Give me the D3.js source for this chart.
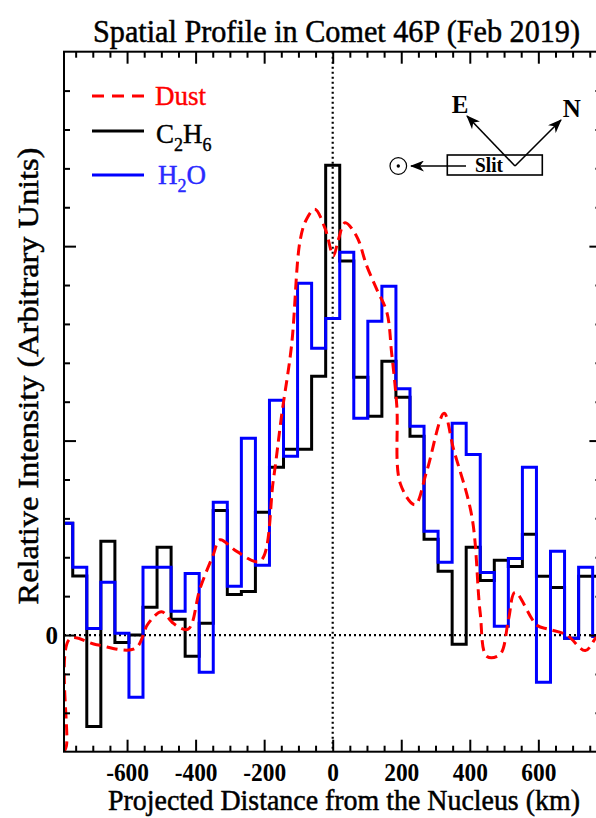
<!DOCTYPE html>
<html>
<head>
<meta charset="utf-8">
<script src="https://cdn.jsdelivr.net/npm/d3@7"></script>
<style>
  body { margin: 0; background: #fff; }
  svg { display: block; }
  svg text { font-family: "Liberation Serif", "DejaVu Serif", serif; }
</style>
</head>
<body>
<svg id="chart" width="596" height="818"></svg>
<script>
// bin centres in km (slit pixels), left to right
binCenters = [-779, -738, -697, -656, -615, -574, -533, -492, -451, -410, -369, -328, -287, -246, -205, -164, -123, -82, -41,
              0, 41, 82, 123, 164, 205, 246, 287, 328, 369, 410, 451, 492, 533, 574, 615, 656, 697, 738, 779];
binWidth = 41;

c2h6Values = [0.575, 0.303, -0.470, 0.482, -0.038, 0.000, 0.143, 0.451, 0.081, -0.109, 0.060, 0.641, 0.208, 0.224, 0.631, 0.863, 0.955, 0.955, 1.331,
              2.416, 1.923, 1.326, 1.125, 1.408, 1.223, 1.022, 0.492, 0.328, -0.048, 0.451, 0.281, 0.384, 0.353, 0.518, 0.302, 0.245, -0.017, 0.302, 0.302];

h2oValues = [0.575, 0.348, 0.034, 0.271, 0.009, -0.320, 0.348, 0.348, 0.122, 0.317, -0.192, 0.683, 0.251, 1.012, 0.359, 1.207, 0.919, 1.809, 1.475,
             1.628, 1.968, 1.115, 1.614, 1.794, 1.266, 1.074, 0.534, 0.374, 1.089, 0.929, 0.322, 0.045, 0.394, 0.863, -0.243, 0.431, -0.017, 0.348, -0.007];

dustX = [-784, -777, -767, -689, -577, -538, -499, -465, -422, -387, -349, -329, -280, -212, -173, -149, -120, -95, -76, -52, -22, 2, 16, 36, 70,
         99, 128, 158, 172, 187, 197, 240, 274, 325, 352, 406, 430, 450, 488, 513, 532, 596, 630, 683, 737, 769, 784];
dustY = [-0.60, -0.57, -0.02, -0.05, -0.07, 0.06, 0.12, 0.06, 0.03, 0.24, 0.41, 0.49, 0.43, 0.38, 0.80, 1.13, 1.49, 2.03, 2.14, 2.19, 2.09, 1.95, 2.03, 2.12, 2.05,
         1.90, 1.78, 1.66, 1.45, 1.18, 0.78, 0.67, 0.84, 1.14, 0.96, 0.61, 0.12, -0.11, -0.10, 0.08, 0.22, 0.05, 0.03, 0.00, -0.08, -0.01, 0.02];

xMajor = [-600, -400, -200, 0, 200, 400, 600];
xMinor = [-750, -700, -650, -550, -500, -450, -350, -300, -250, -150, -100, -50, 50, 100, 150, 250, 300, 350, 450, 500, 550, 650, 700, 750];
yMajor = [0, 1, 2];
yMinor = [-0.4, -0.2, 0.2, 0.4, 0.6, 0.8, 1.2, 1.4, 1.6, 1.8, 2.2, 2.4, 2.6, 2.8];

plot = { left: 64, right: 601.4, top: 51.7, bottom: 751.7 };

// squeeze a text horizontally (narrow Times of the original) to a target width
function fitText(sel, width, base) {
  sel.each(function() {
    var w = this.getComputedTextLength();
    var f = width / w;
    d3.select(this).attr('transform', (base || '') + ` scale(${f},1)`);
  });
}

document.addEventListener('DOMContentLoaded', function() {
  svg = d3.select('#chart');
  svg.append('rect').attr('width', 596).attr('height', 818).style('fill', '#fff');

  var xScale = d3.scaleLinear().domain([-784, 784]).range([plot.left, plot.right]);
  var yScale = d3.scaleLinear().domain([-0.6, 3.0]).range([plot.bottom, plot.top]);

  svg.append('clipPath').attr('id', 'clip')
    .append('rect')
    .attr('x', plot.left).attr('y', plot.top)
    .attr('width', plot.right - plot.left).attr('height', plot.bottom - plot.top);

  // zero lines
  svg.append('line')
    .attr('x1', plot.left).attr('x2', plot.right)
    .attr('y1', yScale(0)).attr('y2', yScale(0))
    .style('stroke', 'black').style('stroke-width', 2.2).style('stroke-dasharray', '2,3');
  svg.append('line')
    .attr('x1', xScale(0)).attr('x2', xScale(0))
    .attr('y1', plot.top).attr('y2', plot.bottom)
    .style('stroke', 'black').style('stroke-width', 2.2).style('stroke-dasharray', '2,3');

  var g = svg.append('g').attr('clip-path', 'url(#clip)');

  function stepPoints(vals) {
    var pts = binCenters.map((c, i) => [c - binWidth / 2, vals[i]]);
    pts.push([binCenters[binCenters.length - 1] + binWidth / 2, vals[vals.length - 1]]);
    return pts;
  }
  var stepLine = d3.line()
    .x(d => xScale(d[0]))
    .y(d => yScale(d[1]))
    .curve(d3.curveStepAfter);

  g.append('path')
    .datum(stepPoints(c2h6Values))
    .style('fill', 'none').style('stroke', 'black').style('stroke-width', 3)
    .attr('d', stepLine);
  g.append('path')
    .datum(stepPoints(h2oValues))
    .style('fill', 'none').style('stroke', '#0000ff').style('stroke-width', 3)
    .attr('d', stepLine);

  var dustLine = d3.line()
    .x((d, i) => xScale(dustX[i]))
    .y(d => yScale(d))
    .curve(d3.curveCatmullRom.alpha(0.5));
  g.append('path')
    .datum(dustY)
    .style('fill', 'none').style('stroke', '#ff0000').style('stroke-width', 3)
    .style('stroke-dasharray', '11,6')
    .attr('d', dustLine);

  // frame
  svg.append('rect')
    .attr('x', plot.left).attr('y', plot.top)
    .attr('width', plot.right - plot.left).attr('height', plot.bottom - plot.top)
    .style('fill', 'none').style('stroke', 'black').style('stroke-width', 2);

  // ticks, pointing inward on all four sides
  function tickStyle(ax) {
    ax.select('.domain').remove();
    ax.attr('font-family', null);
    ax.selectAll('line').style('stroke', 'black').style('stroke-width', 2);
  }
  function bareTicks(ax) {
    tickStyle(ax);
    ax.selectAll('text').remove();
  }
  var bottomMajor = svg.append('g')
    .attr('transform', `translate(0,${plot.bottom})`)
    .call(d3.axisBottom(xScale).tickValues(xMajor).tickSize(-12).tickPadding(11).tickFormat(d3.format('d')));
  tickStyle(bottomMajor);
  bottomMajor.selectAll('text')
    .style('font-family', '"Liberation Serif", "DejaVu Serif", serif')
    .style('font-size', '26px').style('font-weight', 'bold').style('fill', 'black')
    .text(d => d < 0 ? '-' + Math.abs(d) : d)
    .each(function(d) {
      var w = this.getComputedTextLength();
      d3.select(this).attr('transform', `scale(0.9,1)`);
    });

  bareTicks(svg.append('g').attr('transform', `translate(0,${plot.bottom})`)
    .call(d3.axisBottom(xScale).tickValues(xMinor).tickSize(-6).tickFormat('')));
  bareTicks(svg.append('g').attr('transform', `translate(0,${plot.top})`)
    .call(d3.axisTop(xScale).tickValues(xMajor).tickSize(-12).tickFormat('')));
  bareTicks(svg.append('g').attr('transform', `translate(0,${plot.top})`)
    .call(d3.axisTop(xScale).tickValues(xMinor).tickSize(-6).tickFormat('')));

  var leftMajor = svg.append('g')
    .attr('transform', `translate(${plot.left},0)`)
    .call(d3.axisLeft(yScale).tickValues(yMajor).tickSize(-12).tickPadding(6).tickFormat(d => d === 0 ? '0' : ''));
  tickStyle(leftMajor);
  leftMajor.selectAll('text').filter(d => d !== 0).remove();
  leftMajor.selectAll('text')
    .style('font-family', '"Liberation Serif", "DejaVu Serif", serif')
    .style('font-size', '25px').style('font-weight', 'bold').style('fill', 'black');
  bareTicks(svg.append('g').attr('transform', `translate(${plot.left},0)`)
    .call(d3.axisLeft(yScale).tickValues(yMinor).tickSize(-6).tickFormat('')));
  bareTicks(svg.append('g').attr('transform', `translate(${plot.right},0)`)
    .call(d3.axisRight(yScale).tickValues(yMajor).tickSize(-12).tickFormat('')));
  bareTicks(svg.append('g').attr('transform', `translate(${plot.right},0)`)
    .call(d3.axisRight(yScale).tickValues(yMinor).tickSize(-6).tickFormat('')));

  // titles
  svg.append('text')
    .attr('text-anchor', 'middle')
    .style('font-size', '32px').style('fill', 'black')
    .style('stroke', 'black').style('stroke-width', 0.5)
    .text('Spatial Profile in Comet 46P (Feb 2019)')
    .call(fitText, 487, 'translate(336.5,42)');
  svg.append('text')
    .attr('text-anchor', 'middle')
    .style('font-size', '29px').style('fill', 'black')
    .style('stroke', 'black').style('stroke-width', 0.5)
    .text('Projected Distance from the Nucleus (km)')
    .call(fitText, 472, 'translate(344,810)');
  svg.append('text')
    .attr('text-anchor', 'middle')
    .style('font-size', '30px').style('fill', 'black')
    .style('stroke', 'black').style('stroke-width', 0.5)
    .text('Relative Intensity (Arbitrary Units)')
    .call(fitText, 457, 'translate(38,376) rotate(-90)');

  // legend
  svg.append('line').attr('x1', 92).attr('x2', 144).attr('y1', 96).attr('y2', 96)
    .style('stroke', '#ff0000').style('stroke-width', 3).style('stroke-dasharray', '12,8');
  svg.append('text').attr('x', 155).attr('y', 105)
    .style('font-size', '27px').style('fill', '#ff0000')
    .style('stroke', '#ff0000').style('stroke-width', 0.4).text('Dust');
  svg.append('line').attr('x1', 92).attr('x2', 144).attr('y1', 131).attr('y2', 131)
    .style('stroke', 'black').style('stroke-width', 3);
  var c2 = svg.append('text').attr('x', 156).attr('y', 142.7)
    .style('font-size', '27px').style('fill', 'black')
    .style('stroke', 'black').style('stroke-width', 0.4);
  c2.append('tspan').text('C');
  c2.append('tspan').attr('dy', 8).style('font-size', '18px').text('2');
  c2.append('tspan').attr('dy', -8).text('H');
  c2.append('tspan').attr('dy', 8).style('font-size', '18px').text('6');
  svg.append('line').attr('x1', 92).attr('x2', 144).attr('y1', 175).attr('y2', 175)
    .style('stroke', '#0000ff').style('stroke-width', 3);
  var h2 = svg.append('text').attr('x', 158).attr('y', 184)
    .style('font-size', '27px').style('fill', '#2a2aff')
    .style('stroke', '#2a2aff').style('stroke-width', 0.4);
  h2.append('tspan').text('H');
  h2.append('tspan').attr('dy', 8).style('font-size', '18px').text('2');
  h2.append('tspan').attr('dy', -8).text('O');

  // orientation sketch: slit, sun direction, E and N
  var defs = svg.append('defs');
  defs.append('marker').attr('id', 'arrow')
    .attr('viewBox', '0 0 14 11').attr('refX', 13).attr('refY', 5.5)
    .attr('markerWidth', 14).attr('markerHeight', 11).attr('markerUnits', 'userSpaceOnUse')
    .attr('orient', 'auto')
    .append('path').attr('d', 'M0,0 L14,5.5 L0,11 L4,5.5 Z').style('fill', 'black');

  svg.append('rect').attr('x', 447.3).attr('y', 155).attr('width', 95).attr('height', 20)
    .style('fill', 'white').style('stroke', 'black').style('stroke-width', 1.6);
  svg.append('text')
    .attr('text-anchor', 'middle')
    .style('font-size', '22px').style('font-weight', 'bold').style('fill', 'black')
    .text('Slit').call(fitText, 28, 'translate(489,172.3)');
  svg.append('line').attr('x1', 466).attr('y1', 166).attr('x2', 411).attr('y2', 166)
    .style('stroke', 'black').style('stroke-width', 1.6).attr('marker-end', 'url(#arrow)');
  svg.append('circle').attr('cx', 398.3).attr('cy', 166).attr('r', 8.3)
    .style('fill', 'none').style('stroke', 'black').style('stroke-width', 1.2);
  svg.append('circle').attr('cx', 398.3).attr('cy', 166).attr('r', 1.7).style('fill', 'black');
  svg.append('line').attr('x1', 515).attr('y1', 166).attr('x2', 467).attr('y2', 116)
    .style('stroke', 'black').style('stroke-width', 1.6).attr('marker-end', 'url(#arrow)');
  svg.append('line').attr('x1', 515).attr('y1', 166).attr('x2', 561).attr('y2', 120)
    .style('stroke', 'black').style('stroke-width', 1.6).attr('marker-end', 'url(#arrow)');
  svg.append('text').attr('x', 460).attr('y', 112.7)
    .attr('text-anchor', 'middle')
    .style('font-size', '25px').style('font-weight', 'bold').style('fill', 'black').text('E');
  svg.append('text').attr('x', 571.7).attr('y', 117.3)
    .attr('text-anchor', 'middle')
    .style('font-size', '25px').style('font-weight', 'bold').style('fill', 'black').text('N');
});
</script>
</body>
</html>
